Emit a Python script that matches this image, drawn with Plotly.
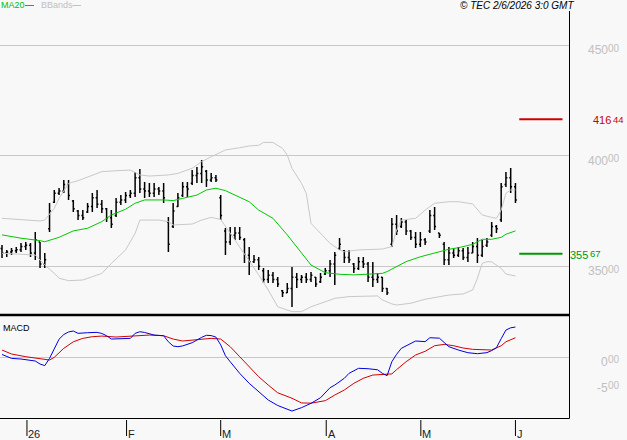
import plotly.graph_objects as go

# ---------------- data ----------------
bar_index = list(range(109))
opens = [358, 356, 356.5, 357, 357.5, 359, 359.5, 356, 361, 351,
         367, 379, 383, 384, 387, 379.5, 375, 373, 374.5, 377,
         381, 378, 376, 372, 373, 379, 380, 382, 383, 390,
         385, 384, 383, 385, 384, 370, 368, 377, 382, 386,
         387.5, 391, 392, 393, 389, 390, 381, 366, 361, 364,
         365, 362, 355, 352, 353, 348, 344, 346, 344, 339,
         338, 340, 345, 344, 345, 344, 345, 343, 346.5, 348,
         351, 358, 357, 354, 351, 349, 352, 351, 345, 344,
         345, 340, 360, 369, 368, 370, 366, 363, 360, 362,
         366, 373, 365, 360, 353, 356, 355, 357, 354, 356,
         359, 355, 359.5, 364, 368, 371, 387, 390, 386]
highs = [359.6, 357.4, 358.3, 358.7, 360.5, 361.0, 360.5, 365.5, 361.0, 356.0,
         378.6, 384.5, 385.4, 389.0, 389.0, 380.0, 375.5, 375.5, 378.6, 383.1,
         384.5, 380.0, 376.4, 375.5, 380.9, 382.2, 383.6, 384.5, 392.6, 394.0,
         388.1, 387.7, 387.7, 385.8, 387.7, 372.3, 378.6, 383.1, 388.1, 388.1,
         393.5, 394.9, 398.1, 393.5, 392.2, 391.3, 382.2, 367.3, 367.8, 367.8,
         367.8, 362.8, 358.7, 355.1, 354.2, 349.2, 348.3, 347.4, 345.2, 339.3,
         342.5, 349.7, 347.0, 346.1, 347.0, 347.4, 345.2, 347.0, 349.2, 352.8,
         356.5, 362.8, 357.4, 357.4, 351.5, 354.2, 354.2, 351.9, 351.9, 347.0,
         345.2, 340.2, 371.8, 373.2, 371.8, 370.9, 366.4, 365.5, 365.5, 362.8,
         375.5, 376.8, 365.1, 361.0, 358.7, 358.3, 358.7, 358.3, 358.7, 361.0,
         362.8, 361.9, 362.8, 370.0, 368.7, 387.7, 392.6, 394.4, 387.7]
lows = [353.7, 354.2, 355.1, 356.0, 356.5, 357.4, 354.2, 352.8, 349.2, 349.2,
        365.5, 378.6, 382.2, 383.1, 380.0, 374.5, 370.9, 370.9, 374.1, 374.5,
        376.4, 374.1, 370.0, 367.3, 372.3, 377.7, 378.6, 380.9, 381.3, 383.1,
        380.9, 381.3, 381.3, 382.2, 378.6, 356.5, 367.3, 376.8, 381.3, 381.3,
        386.8, 387.7, 387.7, 385.8, 388.1, 388.1, 370.9, 355.1, 359.6, 361.9,
        361.9, 351.5, 346.1, 351.5, 348.3, 342.5, 342.5, 342.5, 340.6, 336.1,
        337.9, 331.6, 340.2, 342.5, 342.5, 342.9, 340.6, 342.5, 346.1, 345.2,
        341.5, 357.4, 351.5, 351.5, 347.0, 348.3, 349.2, 342.9, 340.6, 342.5,
        338.4, 337.0, 358.7, 364.2, 367.3, 364.2, 361.9, 358.3, 358.7, 359.6,
        365.1, 366.4, 362.8, 350.6, 350.6, 353.7, 354.2, 352.8, 351.9, 356.0,
        351.5, 354.2, 358.7, 363.3, 365.1, 370.0, 385.8, 383.1, 378.6]
closes = [356, 356.5, 357, 357.5, 359, 359.5, 356, 362, 351, 353,
          375, 383, 384, 387, 382, 376, 373, 372, 377, 381,
          378, 376, 372, 369, 379, 380, 382, 383, 390, 385,
          384, 383, 385, 384, 381, 360, 375, 381, 386, 385,
          391, 392, 395, 389, 390, 389, 373, 361, 364, 365,
          363, 355, 352, 353, 350, 344, 346, 344, 342, 338,
          340, 345, 344, 345, 344, 346, 342, 345, 348, 351,
          355, 360, 354, 353, 349, 352, 351, 345, 344, 345,
          340, 338, 369, 366, 370, 366, 363, 360, 362, 361,
          373, 368, 364, 353, 356, 355, 357, 354, 356, 359,
          355, 359, 361, 368, 367, 386, 390, 386, 380]

ma_idx = [0, 4, 8, 9, 12, 15, 18, 21, 23, 26, 28, 30, 34, 36, 38, 41, 43, 45,
          47, 49, 52, 54, 57, 60, 63, 65, 68, 71, 74, 77, 80, 81, 83, 85, 88,
          91, 94, 96, 99, 101, 103, 105, 106, 108]
ma20 = [364.2, 362.7, 361.6, 361.1, 363.1, 366.0, 367.2, 370.2, 373.2, 375.8,
        378.5, 380.0, 380.0, 379.7, 380.7, 382.2, 384.5, 385.3, 384.2, 382.2,
        379.2, 375.4, 371.7, 364.2, 355.9, 350.6, 347.1, 346.4, 346.1, 346.4,
        346.8, 347.6, 349.8, 352.1, 354.3, 356.1, 357.7, 358.4, 359.9, 362.2,
        362.2, 363.1, 364.5, 366.0]

bb_up_idx = [0, 8, 9, 11, 12, 14, 16, 19, 21, 24, 27, 29, 31, 35, 37, 40, 42,
             44, 47, 50, 52, 54, 55, 57, 59, 60, 61, 63, 64, 65, 67, 69, 71, 72,
             75, 80, 82, 83, 84, 87, 89, 91, 94, 96, 99, 101, 103, 104, 105,
             106, 107, 108]
bb_up = [371.7, 370.5, 370.9, 376.2, 380.7, 387.5, 388.7, 391.3, 392.8, 393.2,
         393.5, 391.3, 390.8, 391.3, 392.0, 394.3, 397.3, 399.5, 402.6, 403.6,
         404.4, 404.7, 406.0, 406.0, 403.3, 400.3, 394.3, 387.5, 383.0, 369.4,
         364.9, 360.4, 357.4, 356.6, 357.4, 357.8, 358.9, 366.4, 370.9, 371.7,
         375.4, 378.5, 379.2, 379.2, 378.2, 373.2, 372.1, 371.7, 375.4, 383.0,
         384.5, 384.5]

bb_lo_idx = [0, 7, 8, 9, 11, 12, 14, 17, 19, 21, 23, 26, 28, 29, 33, 35, 36,
             40, 42, 44, 46, 48, 50, 52, 54, 56, 58, 61, 63, 65, 67, 70, 73,
             75, 79, 80, 82, 83, 86, 89, 92, 94, 97, 99, 100, 101, 102, 103,
             105, 106, 108]
bb_lo = [355.9, 355.1, 352.8, 350.6, 346.8, 344.6, 343.5, 343.8, 345.3, 346.8,
         351.3, 357.4, 364.9, 370.9, 370.9, 370.2, 368.7, 369.1, 370.9, 372.1,
         371.2, 364.9, 358.9, 352.8, 346.1, 339.3, 331.7, 329.5, 329.5, 331.7,
         333.3, 335.5, 336.3, 336.3, 336.6, 334.8, 333.0, 332.5, 333.3, 335.1,
         336.3, 337.0, 337.5, 339.3, 344.6, 351.3, 352.1, 352.0, 349.1, 346.5,
         345.6]

macd_idx = [0, 2, 4, 6, 7, 8, 9, 10, 11, 12, 13, 14, 15, 16, 18, 20, 21, 22,
            23, 25, 27, 28, 29, 30, 32, 34, 35, 36, 37, 38, 40, 42, 43, 44, 45,
            46, 47, 48, 50, 52, 54, 56, 58, 60, 61, 63, 65, 67, 69, 70, 72, 73,
            75, 77, 79, 80, 81, 82, 83, 84, 86, 87, 89, 90, 92, 93, 94, 96, 98,
            100, 102, 103, 104, 105, 106, 107, 108]
macd = [0.55, -0.2, -0.33, -0.65, -0.71, -1.29, -1.6, -0.2, 1.8, 3.5, 4.4, 4.9,
        5.08, 4.63, 4.75, 4.82, 4.6, 4.17, 3.53, 3.66, 3.66, 4.63, 4.94, 4.8,
        4.3, 4.17, 3.0, 2.18, 2.05, 2.2, 2.82, 3.86, 4.25, 4.2, 3.9, 2.4, 0.3,
        -0.85, -3.09, -5.02, -6.7, -8.24, -9.3, -10.0, -10.37, -9.72, -8.88,
        -7.8, -5.87, -5.35, -4.05, -3.09, -2.12, -2.2, -2.4, -3.09, -3.55,
        -0.85, 0.58, 1.74, 2.7, 3.15, 3.03, 3.78, 3.7, 2.9, 2.05, 1.41, 0.89,
        0.7, 0.9, 1.3, 1.85, 3.6, 5.27, 5.7, 5.85]

sig_idx = [0, 2, 5, 8, 10, 11, 13, 15, 17, 19, 21, 24, 28, 31, 34, 36, 38, 40,
           42, 44, 46, 48, 50, 52, 54, 56, 58, 61, 63, 65, 68, 70, 72, 74, 76,
           78, 80, 82, 83, 85, 87, 89, 91, 93, 95, 97, 99, 101, 103, 105, 106,
           108]
signal = [1.41, 0.64, 0.12, -0.33, -0.52, 0.0, 1.74, 3.0, 3.66, 3.98, 4.1,
          3.92, 4.17, 4.3, 4.17, 3.53, 3.15, 3.3, 3.53, 3.66, 3.53, 2.05, 0.12,
          -1.81, -3.74, -5.35, -6.85, -7.9, -8.8, -8.85, -8.37, -7.28, -6.31,
          -5.02, -4.05, -3.42, -3.35, -3.2, -2.38, -0.85, 0.45, 1.16, 2.24, 2.5,
          2.24, 1.8, 1.54, 1.41, 1.41, 2.24, 3.0, 3.78]

month_pos = [5.25, 26.2, 46.0, 68.2, 88.1, 108.0]
month_labels = ["26", "F", "M", "A", "M", "J"]

# axis labels: integer part and small decimal part
price_ticks = [350, 400, 450]
price_int = ["350", "400", "450"]
price_dec = ["00", "00", "00"]
macd_ticks = [0, -5]
macd_int = ["0", "-5"]
macd_dec = ["00", "00"]

levels = [416.44, 355.67]
level_int = ["416", "355"]
level_dec = ["44", "67"]
level_colors = ["#cc0000", "#009900"]

# ---------------- figure ----------------
W, H = 627, 440
BG = "#f8f8f8"
GRID = "#c8c8c8"
FONT = "Liberation Sans, Arial, sans-serif"


def px(xp):
    return xp / W


def py(yp):
    return 1 - yp / H


def ann(**kw):
    base = dict(showarrow=False, borderpad=0, borderwidth=0)
    base.update(kw)
    return base


X_RANGE = [-0.42, 119.37]
fig = go.Figure()

fig.add_trace(go.Scatter(x=bb_up_idx, y=bb_up, mode="lines",
                         line=dict(color=GRID, width=1), hoverinfo="skip",
                         showlegend=False, xaxis="x", yaxis="y"))
fig.add_trace(go.Scatter(x=bb_lo_idx, y=bb_lo, mode="lines",
                         line=dict(color=GRID, width=1), hoverinfo="skip",
                         showlegend=False, xaxis="x", yaxis="y"))
fig.add_trace(go.Scatter(x=ma_idx, y=ma20, mode="lines",
                         line=dict(color="#00c800", width=1), hoverinfo="skip",
                         showlegend=False, xaxis="x", yaxis="y"))
fig.add_trace(go.Ohlc(x=bar_index, open=opens, high=highs, low=lows, close=closes,
                      increasing=dict(line=dict(color="black", width=1.5)),
                      decreasing=dict(line=dict(color="black", width=1.5)),
                      tickwidth=0.3, showlegend=False, hoverinfo="skip",
                      xaxis="x", yaxis="y"))

fig.add_trace(go.Scatter(x=sig_idx, y=signal, mode="lines",
                         line=dict(color="#d00000", width=1), hoverinfo="skip",
                         showlegend=False, xaxis="x2", yaxis="y2"))
fig.add_trace(go.Scatter(x=macd_idx, y=macd, mode="lines",
                         line=dict(color="#0000e0", width=1), hoverinfo="skip",
                         showlegend=False, xaxis="x2", yaxis="y2"))

shapes = []
annotations = []

# level lines and labels
level_label_x = [593, 569.5]
for lv, li, ld, col, lx in zip(levels, level_int, level_dec, level_colors,
                               level_label_x):
    shapes.append(dict(type="line", xref="x", yref="y", x0=108.8, x1=117.9,
                       y0=lv, y1=lv, line=dict(color=col, width=2)))
    annotations.append(ann(xref="paper", yref="y", x=px(lx), y=lv, yshift=-1,
                           text=li, xanchor="left", yanchor="middle",
                           font=dict(family=FONT, size=11, color=col)))
    annotations.append(ann(xref="paper", yref="y", x=px(lx + 20), y=lv,
                           yshift=0, text=ld, xanchor="left", yanchor="middle",
                           font=dict(family=FONT, size=9.5, color=col)))

# right axis labels
for t, li, ld in zip(price_ticks, price_int, price_dec):
    annotations.append(ann(xref="paper", yref="y", x=px(607.5), y=t, yshift=-5,
                           text=li, xanchor="right", yanchor="middle",
                           font=dict(family=FONT, size=12, color="#c0c0c0")))
    annotations.append(ann(xref="paper", yref="y", x=px(607.5), y=t, yshift=-3,
                           text=ld, xanchor="left", yanchor="middle",
                           font=dict(family=FONT, size=10, color="#c0c0c0")))
for t, li, ld in zip(macd_ticks, macd_int, macd_dec):
    annotations.append(ann(xref="paper", yref="y2", x=px(607.5), y=t, yshift=-4.5,
                           text=li, xanchor="right", yanchor="middle",
                           font=dict(family=FONT, size=12, color="#c0c0c0")))
    annotations.append(ann(xref="paper", yref="y2", x=px(607.5), y=t, yshift=-2.5,
                           text=ld, xanchor="left", yanchor="middle",
                           font=dict(family=FONT, size=10, color="#c0c0c0")))

# month ticks
for pos, lab in zip(month_pos, month_labels):
    shapes.append(dict(type="line", xref="x2", yref="paper", x0=pos, x1=pos,
                       y0=py(420), y1=py(436), line=dict(color="black", width=1)))
    annotations.append(ann(xref="x2", yref="paper", x=pos, y=py(433.5),
                           xshift=1.5, text=lab, xanchor="left",
                           yanchor="middle",
                           font=dict(family=FONT, size=11, color="#222222")))

# panel borders
shapes.append(dict(type="line", xref="paper", yref="paper", x0=0, x1=px(569.5),
                   y0=py(315), y1=py(315), line=dict(color="black", width=2.5)))
shapes.append(dict(type="line", xref="paper", yref="paper", x0=0, x1=px(569.5),
                   y0=py(418.5), y1=py(418.5), line=dict(color="black", width=1)))
shapes.append(dict(type="line", xref="paper", yref="paper", x0=px(569.5),
                   x1=px(569.5), y0=py(11), y1=py(418.5),
                   line=dict(color="black", width=1)))

# legend / header
annotations.append(ann(xref="paper", yref="paper", x=px(0.5), y=py(5.5),
                       text="MA20", xanchor="left", yanchor="middle",
                       font=dict(family=FONT, size=9, color="#00c000")))
shapes.append(dict(type="line", xref="paper", yref="paper", x0=px(25), x1=px(34),
                   y0=py(5.5), y1=py(5.5), line=dict(color="#00c000", width=1)))
annotations.append(ann(xref="paper", yref="paper", x=px(41), y=py(5.5),
                       text="BBands", xanchor="left", yanchor="middle",
                       font=dict(family=FONT, size=9, color="#c0c0c0")))
shapes.append(dict(type="line", xref="paper", yref="paper", x0=px(72.5), x1=px(81),
                   y0=py(5.5), y1=py(5.5), line=dict(color="#c0c0c0", width=1)))
annotations.append(ann(xref="paper", yref="paper", x=px(574), y=py(5.5),
                       text="<i>© TEC 2/6/2026 3:0 GMT</i>", xanchor="right",
                       yanchor="middle",
                       font=dict(family=FONT, size=10, color="black")))
annotations.append(ann(xref="paper", yref="paper", x=px(2.5), y=py(327.5),
                       text="MACD", xanchor="left", yanchor="middle",
                       font=dict(family=FONT, size=9, color="black")))

common_x = dict(range=X_RANGE, showgrid=False, zeroline=False,
                showticklabels=False, ticks="", showline=False, fixedrange=True)
fig.update_layout(
    width=W, height=H, margin=dict(l=0, r=0, t=0, b=0),
    paper_bgcolor=BG, plot_bgcolor=BG, showlegend=False,
    xaxis=dict(domain=[0, px(569.5)], anchor="y", rangeslider=dict(visible=False),
               **common_x),
    xaxis2=dict(domain=[0, px(569.5)], anchor="y2", **common_x),
    yaxis=dict(domain=[py(315), py(11)], range=[327.98, 465.42],
               tickvals=price_ticks, showgrid=True, gridcolor=GRID, gridwidth=1,
               zeroline=False, showticklabels=False, ticks="", showline=False),
    yaxis2=dict(domain=[py(418.5), py(315)], range=[-11.81, 8.17],
                tickvals=[0], showgrid=True, gridcolor=GRID, gridwidth=1,
                zeroline=False, showticklabels=False, ticks="", showline=False),
    shapes=shapes, annotations=annotations,
)

fig.write_html("out.html")
